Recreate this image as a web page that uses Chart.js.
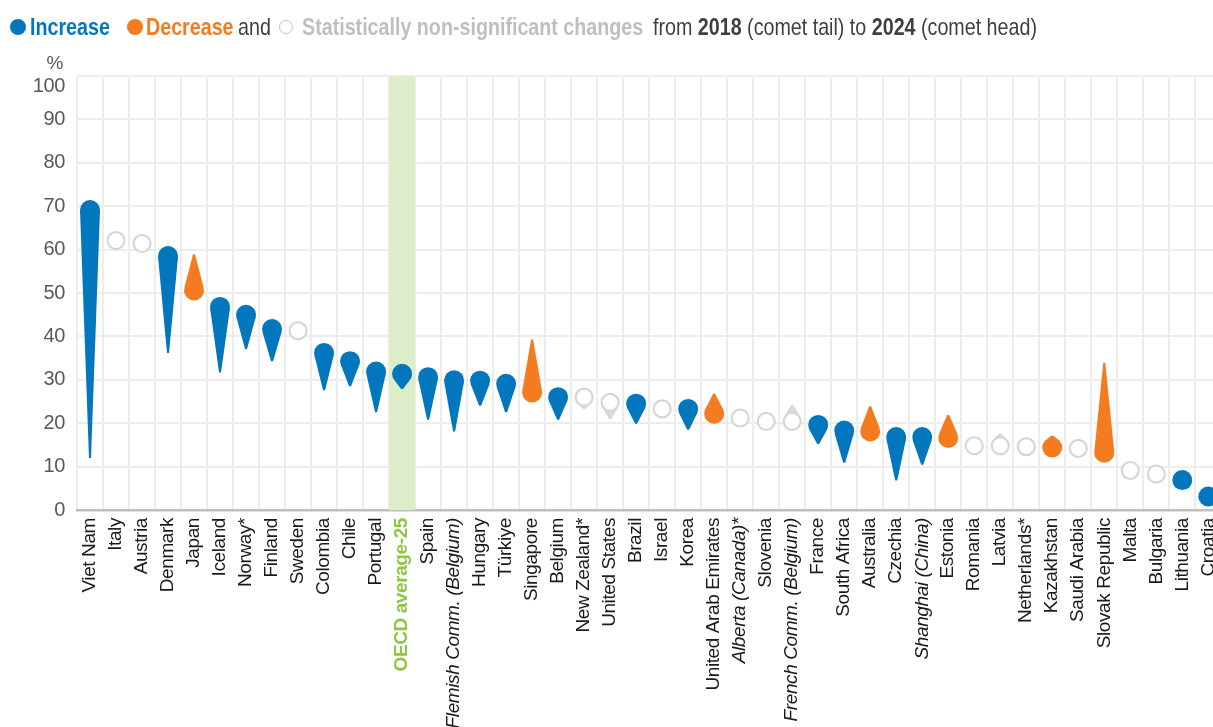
<!DOCTYPE html>
<html>
<head>
<meta charset="utf-8">
<script src="https://cdn.jsdelivr.net/npm/chart.js@4/dist/chart.umd.min.js"></script>
<style>
  body { margin: 0; background: #fff; overflow: hidden; }
  #wrap { position: relative; width: 1213px; height: 727px; overflow: hidden; }
  #legend { position: absolute; left: 0; top: 0; width: 1213px; height: 60px;
    font-family: "Liberation Sans", Arial, sans-serif; font-size: 24px; color: #404040; }
  #legend .t { position: absolute; top: 12px; line-height: 30px; white-space: nowrap;
    transform: scaleX(0.82); transform-origin: 0 0; }
  #legend .dot { position: absolute; top: 19px; width: 16px; height: 16px; border-radius: 50%; }
  #legend .ring { position: absolute; top: 20px; width: 12px; height: 12px; border-radius: 50%; border: 1.5px solid #C4C4C4; }
  canvas { position: absolute; left: 0; top: 0; }
</style>
</head>
<body>
<div id="wrap">
  <canvas id="chart" width="1232" height="727"></canvas>
  <div id="legend">
    <span class="dot" style="left:10px;background:#0277BD"></span>
    <span class="t" style="left:30px;color:#0277BD"><b>Increase</b></span>
    <span class="dot" style="left:127px;background:#F47B20"></span>
    <span class="t" style="left:146px;color:#F47B20"><b>Decrease</b></span>
    <span class="t" style="left:238px">and</span>
    <span class="ring" style="left:279px"></span>
    <span class="t" style="left:302px;color:#BFBFBF"><b>Statistically non-significant changes</b></span>
    <span class="t" style="left:653px">from <b>2018</b> (comet tail) to <b>2024</b> (comet head)</span>
  </div>
</div>
<script>
const countries = ['Viet Nam', 'Italy', 'Austria', 'Denmark', 'Japan', 'Iceland', 'Norway*', 'Finland', 'Sweden',
  'Colombia', 'Chile', 'Portugal', 'OECD average-25', 'Spain', 'Flemish Comm. (Belgium)', 'Hungary', 'Türkiye',
  'Singapore', 'Belgium', 'New Zealand*', 'United States', 'Brazil', 'Israel', 'Korea', 'United Arab Emirates',
  'Alberta (Canada)*', 'Slovenia', 'French Comm. (Belgium)', 'France', 'South Africa', 'Australia', 'Czechia',
  'Shanghai (China)', 'Estonia', 'Romania', 'Latvia', 'Netherlands*', 'Kazakhstan', 'Saudi Arabia',
  'Slovak Republic', 'Malta', 'Bulgaria', 'Lithuania', 'Croatia'];

// comet head
const value2024 = [69.1, 62.1, 61.4, 58.5, 50.6, 46.8, 45.0, 41.7, 41.3, 36.2, 34.3, 31.9, 31.4, 30.6, 29.9, 29.8,
  29.1, 27.1, 26.0, 26.0, 24.8, 24.5, 23.3, 23.3, 22.2, 21.2, 20.4, 20.4, 19.6, 18.3, 18.1, 16.8, 16.8, 16.6,
  14.8, 14.8, 14.6, 14.4, 14.2, 13.2, 9.1, 8.3, 6.9, 3.1];

// comet tail
const value2018 = [12.0, 62.5, 61.0, 36.2, 58.9, 31.7, 37.1, 34.3, 41.0, 27.6, 28.5, 22.5, 27.9, 20.8, 18.1, 24.0,
  22.5, 39.3, 20.8, 23.3, 20.9, 19.9, 23.5, 18.5, 26.8, 21.5, 20.2, 24.2, 15.2, 10.9, 23.9, 6.8, 10.4, 21.9,
  14.6, 17.6, 14.8, 17.1, 14.0, 33.9, 9.0, 8.5, 6.0, 2.0];

// inc = increase, dec = decrease, ns = not significant
const change = ['inc', 'ns', 'ns', 'inc', 'dec', 'inc', 'inc', 'inc', 'ns', 'inc', 'inc', 'inc', 'inc', 'inc',
  'inc', 'inc', 'inc', 'dec', 'inc', 'ns', 'ns', 'inc', 'ns', 'inc', 'dec', 'ns', 'ns', 'ns', 'inc', 'inc', 'dec',
  'inc', 'inc', 'dec', 'ns', 'ns', 'ns', 'dec', 'ns', 'dec', 'ns', 'ns', 'inc', 'inc'];

const italicLabels = ['Flemish Comm. (Belgium)', 'Alberta (Canada)*', 'French Comm. (Belgium)', 'Shanghai (China)'];
const yTicks = [0, 10, 20, 30, 40, 50, 60, 70, 80, 90, 100];

const colors = { inc: '#0277BD', dec: '#F47B20', ns: '#D9D9D9' };
const FONT = '"Liberation Sans", Arial, sans-serif';

function heads(kind) {
  return value2024.map((v, i) => change[i] === kind ? v : null);
}

const cometTails = {
  id: 'cometTails',
  beforeDraw(chart) {
    // squeeze the text a little, the original uses a narrow face
    chart.ctx.letterSpacing = '-0.4px';
  },
  beforeDatasetsDraw(chart) {
    const { ctx, chartArea, scales: { x, y } } = chart;
    const w = x.getPixelForValue(1) - x.getPixelForValue(0);
    const oecd = countries.indexOf('OECD average-25');
    ctx.save();
    ctx.fillStyle = '#DDEDC8';
    ctx.fillRect(x.getPixelForValue(oecd) - w / 2, chartArea.top, w, chartArea.bottom - chartArea.top);

    countries.forEach((c, i) => {
      const cx = x.getPixelForValue(i);
      const hy = y.getPixelForValue(value2024[i]);
      const ty = y.getPixelForValue(value2018[i]);
      const r = change[i] === 'ns' ? 9.5 : 10;
      const d = Math.abs(ty - hy);
      if (d <= r) return;
      const dir = ty > hy ? 1 : -1;
      const cos = r / d, sin = Math.sqrt(1 - cos * cos);
      ctx.fillStyle = colors[change[i]];
      ctx.beginPath();
      ctx.moveTo(cx + r * sin, hy + dir * r * cos);
      ctx.lineTo(cx + 1, ty);
      ctx.lineTo(cx - 1, ty);
      ctx.lineTo(cx - r * sin, hy + dir * r * cos);
      ctx.closePath();
      ctx.fill();
    });

    // % unit above the y axis
    ctx.fillStyle = '#595959';
    ctx.font = '19px ' + FONT;
    ctx.textAlign = 'right';
    ctx.textBaseline = 'bottom';
    ctx.fillText('%', chartArea.left - 14, chartArea.top - 3);
    ctx.restore();
  }
};

new Chart(document.getElementById('chart'), {
  type: 'line',
  data: {
    labels: countries,
    datasets: [
      { label: 'Increase', data: heads('inc'), showLine: false, pointRadius: 10, pointHoverRadius: 10,
        pointBackgroundColor: colors.inc, pointBorderWidth: 0 },
      { label: 'Decrease', data: heads('dec'), showLine: false, pointRadius: 10, pointHoverRadius: 10,
        pointBackgroundColor: colors.dec, pointBorderWidth: 0 },
      { label: 'Statistically non-significant changes', data: heads('ns'), showLine: false, pointRadius: 8.5,
        pointHoverRadius: 8.5, pointBackgroundColor: '#fff', pointBorderColor: '#D6D6D6', pointBorderWidth: 2.2 }
    ]
  },
  options: {
    responsive: false,
    animation: false,
    layout: { padding: { top: 76, right: 4, left: 0, bottom: 0 } },
    plugins: { legend: { display: false }, tooltip: { enabled: false } },
    scales: {
      x: {
        offset: true,
        grid: { offset: true, color: '#EDEDED', lineWidth: 2, drawTicks: false },
        border: { color: '#BFBFBF', width: 2.5 },
        ticks: {
          autoSkip: false, minRotation: 90, maxRotation: 90, padding: 8,
          color: (c) => countries[c.index] === 'OECD average-25' ? '#8DC63F' : '#1a1a1a',
          font: (c) => ({
            family: FONT, size: 19,
            style: italicLabels.includes(countries[c.index]) ? 'italic' : 'normal',
            weight: countries[c.index] === 'OECD average-25' ? 'bold' : 'normal'
          })
        },
        afterFit: (axis) => { axis.height = 217; axis.paddingLeft = 0; axis.paddingRight = 0; }
      },
      y: {
        min: 0, max: 100,
        afterBuildTicks: (axis) => { axis.ticks = yTicks.map(v => ({ value: v })); },
        afterFit: (axis) => { axis.width = 77; },
        grid: { color: '#EDEDED', lineWidth: 2, drawTicks: false },
        border: { display: false },
        ticks: {
          color: '#595959', padding: 12, font: { family: FONT, size: 20, lineHeight: 1 },
          // the top label sits a bit under its grid line in the original
          callback: (v) => v === 100 ? ['', '100'] : v
        }
      }
    }
  },
  plugins: [cometTails]
});
</script>
</body>
</html>
